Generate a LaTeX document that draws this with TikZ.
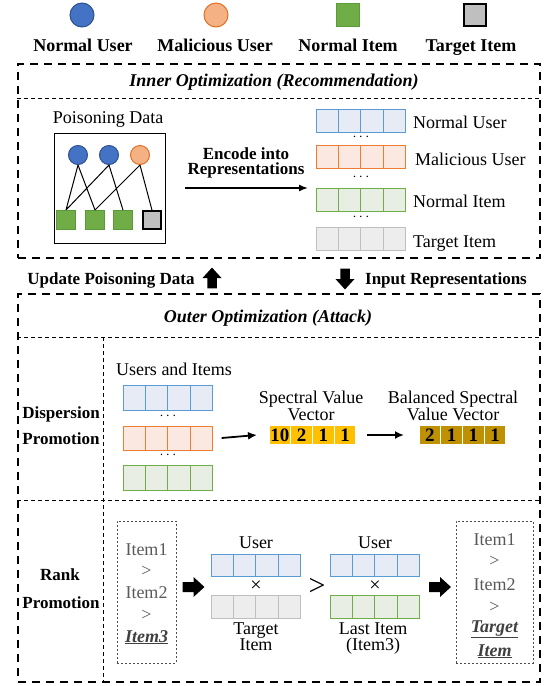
\documentclass[tikz,border=0pt]{standalone}
\usepackage{fontspec}
\setmainfont{Liberation Serif}
\usetikzlibrary{arrows.meta}
\definecolor{ublue}{HTML}{4472C4}
\definecolor{ubluedk}{HTML}{2F528F}
\definecolor{uorange}{HTML}{F4B183}
\definecolor{uorangedk}{HTML}{E07028}
\definecolor{igreen}{HTML}{70AD47}
\definecolor{igreendk}{HTML}{5A9A3A}
\definecolor{igray}{HTML}{BFBFBF}
\definecolor{rblue}{HTML}{5B9BD5}
\definecolor{rbluef}{HTML}{E6EBF5}
\definecolor{rorange}{HTML}{ED7D31}
\definecolor{rorangef}{HTML}{FBE8E0}
\definecolor{rgreen}{HTML}{70AD47}
\definecolor{rgreenf}{HTML}{E8EEE4}
\definecolor{rgray}{HTML}{BFBFBF}
\definecolor{rgrayf}{HTML}{EDEDED}
\definecolor{specy}{HTML}{FFC000}
\definecolor{specb}{HTML}{BF9000}
\definecolor{rtext}{HTML}{595959}
\newcommand\EmbRow[6]{\foreach \k in {0,1,2,3}{\node[cell,draw=#5,fill=#6,minimum height=#4pt,anchor=north west] (#1-\k) at ({#2+\k*22.4},#3) {};}}
\begin{document}
\begin{tikzpicture}[x=1pt,y=-1pt,
  lab/.style={inner sep=0pt, anchor=base, font=\fontsize{18}{20}\selectfont},
  blab/.style={inner sep=0pt, anchor=base, font=\fontsize{18}{20}\selectfont\bfseries},
  mlab/.style={inner sep=0pt, anchor=base, font=\fontsize{17}{19}\selectfont\bfseries},
  tlab/.style={inner sep=0pt, anchor=base, font=\fontsize{18}{20}\selectfont\bfseries\itshape},
  rlab/.style={inner sep=0pt, anchor=base, text=rtext, font=\fontsize{18}{20}\selectfont},
  rulab/.style={inner sep=0pt, anchor=base, text=black!75, font=\fontsize{18}{20}\selectfont\bfseries\itshape},
  bigbox/.style={draw, line width=2pt, dash pattern=on 8pt off 6pt, inner sep=0pt, anchor=north west},
  smalldash/.style={line width=0.9pt, dash pattern=on 4pt off 3pt},
  dotbox/.style={draw=black!70, line width=0.8pt, dash pattern=on 2pt off 2pt, inner sep=0pt, anchor=north west},
  cell/.style={rectangle, inner sep=0pt, outer sep=0pt, minimum width=22.4pt, line width=1pt},
  spec/.style={rectangle, inner sep=0pt, outer sep=0pt, minimum width=21.75pt, minimum height=20pt, draw=white, line width=1.2pt, anchor=north west, font=\fontsize{19}{20}\selectfont\bfseries},
  ucirc/.style={circle, inner sep=0pt, minimum size=#1, line width=1pt},
  isq/.style={rectangle, inner sep=0pt, minimum size=#1, line width=1pt},
  dotsn/.style={inner sep=0pt, font=\fontsize{14}{14}\selectfont},
  blockarr/.pic={\fill[black] (-11,-5) -- (0,-5) -- (0,-10) -- (11,0) -- (0,10) -- (0,5) -- (-11,5) -- cycle;}
]
\useasboundingbox (0,0) rectangle (546,686);

% ---------- legend ----------
\node[ucirc=24pt, fill=ublue, draw=ubluedk] (lgu) at (82,15) {};
\node[ucirc=24pt, fill=uorange, draw=uorangedk] (lgm) at (216,15) {};
\node[isq=23pt, fill=igreen, draw=igreendk] (lgn) at (348,15) {};
\node[isq=22pt, fill=igray, draw=black, line width=1.8pt] (lgt) at (475,15) {};
\node[blab] (lgut) at (83,51) {Normal User};
\node[blab] (lgmt) at (215,51) {Malicious User};
\node[blab] (lgnt) at (348,51) {Normal Item};
\node[blab] (lgtt) at (471,51) {Target Item};

% ---------- inner optimization ----------
\node[bigbox, minimum width=522pt, minimum height=194pt] (inner) at (17,63) {};
\node[tlab] (innert) at (274,86) {Inner Optimization (Recommendation)};
\draw[smalldash] (17,98) -- (539,98);

\node[lab] (pdt) at (108,123) {Poisoning Data};
\node[draw, line width=1pt, inner sep=0pt, minimum width=111pt, minimum height=110pt, anchor=north west] (pdbox) at (54,133) {};
\node[ucirc=19pt, fill=ublue, draw=ubluedk] (u1) at (78,155) {};
\node[ucirc=19pt, fill=ublue, draw=ubluedk] (u2) at (109,155) {};
\node[ucirc=19pt, fill=uorange, draw=uorangedk] (u3) at (140,155) {};
\node[isq=19pt, fill=igreen, draw=igreendk] (i1) at (66,220) {};
\node[isq=19pt, fill=igreen, draw=igreendk] (i2) at (95,220) {};
\node[isq=19pt, fill=igreen, draw=igreendk] (i3) at (123,220) {};
\node[isq=18pt, fill=igray, draw=black, line width=1.6pt] (i4) at (152,220) {};
\draw[line width=1pt] (u1.south) -- (i1.north) (u1.south) -- (i2.north)
  (u2.south) -- (i1.north) (u2.south) -- (i3.north)
  (u3.south) -- (i2.north) (u3.south) -- (i4.north);

\node[mlab] (enc1) at (246,159) {Encode into};
\node[mlab] (enc2) at (246,174) {Representations};
\coordinate (encA) at (185,188);
\coordinate (encB) at (308,188);
\draw[line width=1.6pt, -{Latex[length=9pt,width=7pt]}] (encA) -- (encB);

\EmbRow{ru}{316}{109}{23}{rblue}{rbluef}
\EmbRow{rm}{316}{145}{23}{rorange}{rorangef}
\EmbRow{rn}{316}{188}{23}{rgreen}{rgreenf}
\EmbRow{rt}{316}{227}{23}{rgray}{rgrayf}
\node[dotsn] (d1) at (361,137) {$\cdots$};
\node[dotsn] (d2) at (361,177) {$\cdots$};
\node[dotsn] (d3) at (361,217) {$\cdots$};
\node[lab, anchor=base west] (rut) at (413,128) {Normal User};
\node[lab, anchor=base west] (rmt) at (415,165) {Malicious User};
\node[lab, anchor=base west] (rnt) at (413,207) {Normal Item};
\node[lab, anchor=base west] (rtt) at (413,247) {Target Item};

% ---------- between ----------
\node[mlab] (upd) at (111,284) {Update Poisoning Data};
\pic[rotate=90, scale=0.95] at (212,278) {blockarr};
\pic[rotate=-90, scale=0.95] at (345,279) {blockarr};
\node[mlab] (inp) at (446,284) {Input Representations};

% ---------- outer optimization ----------
\node[bigbox, minimum width=522pt, minimum height=388pt] (outer) at (17,293) {};
\node[tlab] (outert) at (268,322) {Outer Optimization (Attack)};
\draw[smalldash] (17,337) -- (539,337);
\draw[smalldash] (103,337) -- (103,681);
\draw[smalldash] (17,500) -- (539,500);

% dispersion promotion
\node[mlab] (dp1) at (61,418) {Dispersion};
\node[mlab] (dp2) at (61,444) {Promotion};
\node[lab] (uit) at (174,375) {Users and Items};
\EmbRow{du}{123}{385}{25}{rblue}{rbluef}
\EmbRow{dm}{123}{426}{24}{rorange}{rorangef}
\EmbRow{dn}{123}{465}{25}{rgreen}{rgreenf}
\node[dotsn] (d4) at (168,416) {$\cdots$};
\node[dotsn] (d5) at (168,455) {$\cdots$};

\node[lab] (svt1) at (311,403) {Spectral Value};
\node[lab] (svt2) at (311,420) {Vector};
\foreach \v [count=\k from 0] in {10,2,1,1}
  \node[spec, fill=specy] (sv-\k) at ({269+\k*21.75},425) {\v};
\node[lab] (bst1) at (453,403) {Balanced Spectral};
\node[lab] (bst2) at (453,420) {Value Vector};
\foreach \v [count=\k from 0] in {2,1,1,1}
  \node[spec, fill=specb] (bs-\k) at ({419+\k*21.75},425) {\v};
\draw[line width=1.8pt, -{Latex[length=9pt,width=8pt]}] ([xshift=9pt]dm-3.east) -- ([xshift=-12pt]sv-0.west);
\draw[line width=1.8pt, -{Latex[length=9pt,width=8pt]}] ([xshift=11pt]sv-3.east) -- ([xshift=-15pt]bs-0.west);

% rank promotion
\node[mlab] (rp1) at (60,580) {Rank};
\node[mlab] (rp2) at (61,608) {Promotion};

\node[dotbox, minimum width=59pt, minimum height=142pt] (rk1) at (117,521) {};
\node[rlab] (rk1a) at (146.5,555) {Item1};
\node[rlab] (rk1b) at (146.5,576) {>};
\node[rlab] (rk1c) at (146.5,598) {Item2};
\node[rlab] (rk1d) at (146.5,620) {>};
\node[rulab] (rk1e) at (146.5,642) {\underline{Item3}};

\pic at (193.5,587) {blockarr};

\node[lab] (us1) at (256,548) {User};
\EmbRow{pu}{211}{554}{22}{rblue}{rbluef}
\node[lab, anchor=center, font=\fontsize{20}{20}\selectfont] (x1) at (256,586) {×};
\EmbRow{pt}{211}{595}{23}{rgray}{rgrayf}
\node[lab] (tg1) at (256,634) {Target};
\node[lab] (tg2) at (256,650) {Item};

\node[inner sep=0pt, font=\fontsize{30}{30}\selectfont] (gt) at (317,587) {>};

\node[lab] (us2) at (375,548) {User};
\EmbRow{qu}{330}{554}{22}{rblue}{rbluef}
\node[lab, anchor=center, font=\fontsize{20}{20}\selectfont] (x2) at (375,586) {×};
\EmbRow{qn}{330}{595}{23}{rgreen}{rgreenf}
\node[lab] (li1) at (373,634) {Last Item};
\node[lab] (li2) at (373,650) {(Item3)};

\pic at (440,587) {blockarr};

\node[dotbox, minimum width=77pt, minimum height=142pt] (rk2) at (456,521) {};
\node[rlab] (rk2a) at (494.5,545) {Item1};
\node[rlab] (rk2b) at (494.5,566) {>};
\node[rlab] (rk2c) at (494.5,590) {Item2};
\node[rlab] (rk2d) at (494.5,612) {>};
\node[rulab] (rk2e) at (494.5,632) {\underline{Target}};
\node[rulab] (rk2f) at (494.5,656) {\underline{Item}};
\end{tikzpicture}
\end{document}
